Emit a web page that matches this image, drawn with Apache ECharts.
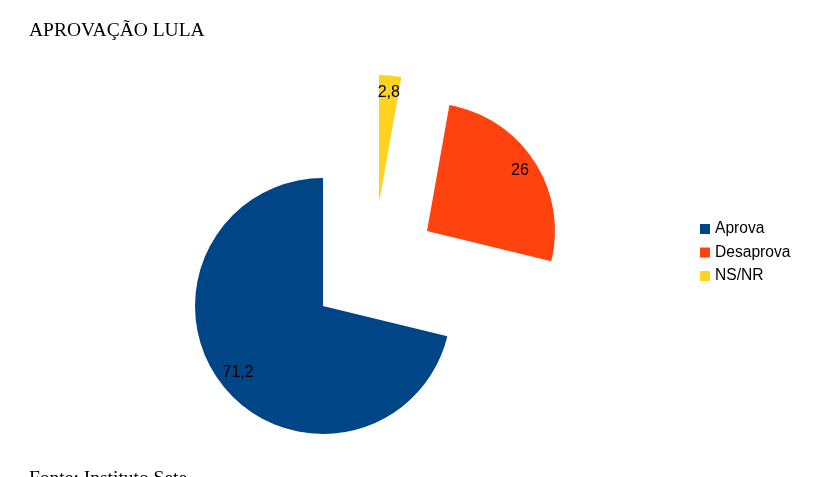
<!DOCTYPE html>
<html>
<head>
<meta charset="utf-8">
<script src="https://cdn.jsdelivr.net/npm/echarts@6/dist/echarts.min.js"></script>
<style>
html,body{margin:0;padding:0;background:#fff;}
#c{width:830px;height:477px;}
</style>
</head>
<body>
<div id="c"></div>
<script>
const categories = ['Aprova', 'Desaprova', 'NS/NR'];
const values = [71.2, 26, 2.8];
const colors = ['#004586', '#ff420e', '#ffd320'];
const titleText = 'APROVAÇÃO LULA';
const sourceText = 'Fonte: Instituto Sete';

// slice centers (Desaprova and NS/NR exploded)
const centers = [[323, 306], [427, 231], [379, 203]];
const labelInner = [82, 88, 88];
const R = 128;
const T = 'rgba(0,0,0,0)';

function sliceSeries(i) {
  return {
    type: 'pie', silent: true, animation: false,
    center: centers[i], radius: [0, R],
    startAngle: 90, clockwise: false, avoidLabelOverlap: false,
    label: { show: false }, labelLine: { show: false },
    emphasis: { disabled: true },
    data: categories.map((n, j) => ({
      name: n, value: values[j],
      itemStyle: { color: j === i ? colors[j] : T }
    }))
  };
}
function labelSeries(i) {
  return {
    type: 'pie', silent: true, animation: false,
    center: centers[i], radius: [labelInner[i], R],
    startAngle: 90, clockwise: false, avoidLabelOverlap: false,
    labelLine: { show: false },
    emphasis: { disabled: true },
    itemStyle: { color: T },
    data: categories.map((n, j) => ({
      name: n, value: values[j],
      label: {
        show: j === i, position: 'inside', color: '#000',
        fontFamily: 'Liberation Sans', fontSize: 16,
        formatter: p => String(p.value).replace('.', ',')
      }
    }))
  };
}

const series = [];
categories.forEach((c, i) => series.push(sliceSeries(i)));
categories.forEach((c, i) => series.push(labelSeries(i)));

const chart = echarts.init(document.getElementById('c'));
chart.setOption({
  backgroundColor: '#fff',
  title: [
    { text: titleText, left: 29, top: 21, padding: 0,
      textStyle: { fontFamily: 'Liberation Serif', fontWeight: 'normal', fontSize: 19.5, color: '#000' } },
    { text: sourceText, left: 29, top: 469, padding: 0,
      textStyle: { fontFamily: 'Liberation Serif', fontWeight: 'normal', fontSize: 19.5, color: '#000' } }
  ],
  legend: {
    orient: 'vertical', left: 700, top: 221, padding: 0,
    itemWidth: 10, itemHeight: 10, itemGap: 7.5,
    icon: 'rect', selectedMode: false,
    textStyle: { fontFamily: 'Liberation Sans', fontSize: 15.6, color: '#000', lineHeight: 16 },
    data: categories.map((n, j) => ({ name: n, itemStyle: { color: colors[j] } }))
  },
  series: series
});
</script>
</body>
</html>
